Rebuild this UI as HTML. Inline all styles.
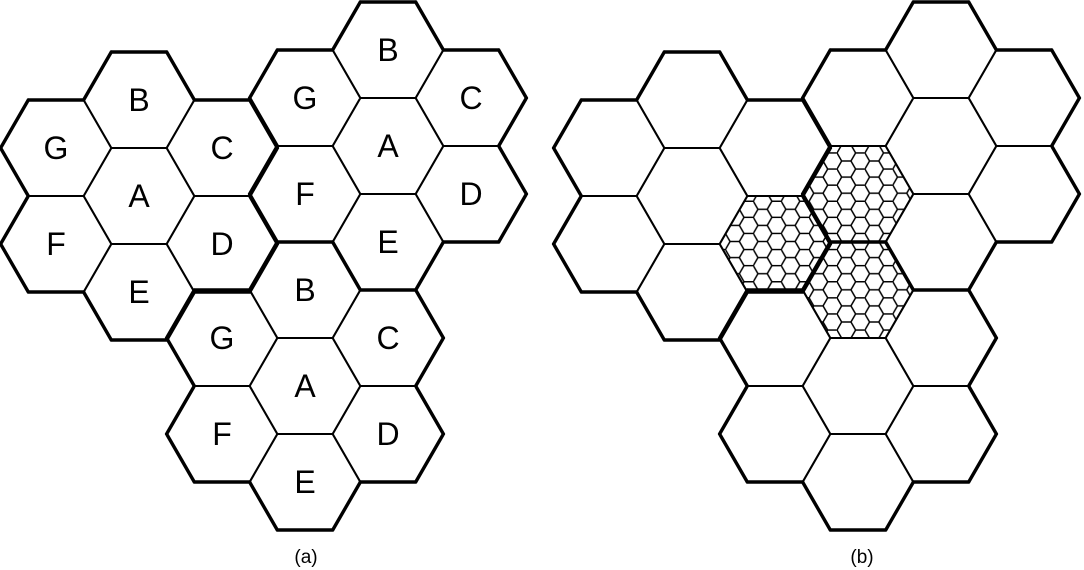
<!DOCTYPE html>
<html><head><meta charset="utf-8"><style>
html,body{margin:0;padding:0;background:#fff;}
svg{display:block;}
text{font-family:"Liberation Sans",Arial,sans-serif;fill:#000;}
</style></head><body>
<svg id="s" width="1084" height="570" viewBox="0 0 1084 570">
<defs>
<pattern id="mini" patternUnits="userSpaceOnUse" width="27.9" height="16.1" x="0" y="0">
<path d="M0,8.05 L4.65,0 L13.95,0 L18.6,8.05 L13.95,16.1 L4.65,16.1 Z M18.6,8.05 L27.9,8.05" fill="none" stroke="#000" stroke-width="1.5"/>
</pattern>
</defs>
<g id="g"></g>
<text x="306" y="563" font-size="19" text-anchor="middle">(a)</text>
<text x="862" y="563" font-size="19" text-anchor="middle">(b)</text>
</svg>
<script>
const R=55.4, AP=48, DX=83, DY=96;
const labels=['A','B','C','D','E','F','G'];
const offs=[[0,0],[0,-1],[1,-0.5],[1,0.5],[0,1],[-1,0.5],[-1,-0.5]];
const clusterCenters=[[139,196],[388,146],[305,386]];
const panelShift=[0,553];
const hatched=[[0,3],[1,5],[2,1]];
const g=document.getElementById('g');
const NS='http://www.w3.org/2000/svg';
function verts(cx,cy){const v=[];for(let k=0;k<6;k++){const a=k*Math.PI/3;v.push([cx+R*Math.cos(a),cy+R*Math.sin(a)]);}return v;}
panelShift.forEach((sx,p)=>{
  const cells=[];
  clusterCenters.forEach((c,ci)=>{offs.forEach((o,li)=>{cells.push({ci,li,x:c[0]+o[0]*DX+sx,y:c[1]+o[1]*DY});});});
  if(p===1){hatched.forEach(h=>{const c=cells.find(e=>e.ci===h[0]&&e.li===h[1]);
    const poly=document.createElementNS(NS,'polygon');
    poly.setAttribute('points',verts(c.x,c.y).map(v=>v.join(',')).join(' '));
    poly.setAttribute('fill','url(#mini)');
    
    
    g.appendChild(poly);});}
  const thin=[],thick=[];
  cells.forEach(c=>{
    const v=verts(c.x,c.y);
    for(let k=0;k<6;k++){
      const ang=(30+60*k)*Math.PI/180;
      const nx=c.x+2*AP*Math.cos(ang), ny=c.y+2*AP*Math.sin(ang);
      const same=cells.some(e=>e.ci===c.ci&&Math.hypot(e.x-nx,e.y-ny)<5);
      const a=v[k],b=v[(k+1)%6];
      const d=`M${a[0].toFixed(1)},${a[1].toFixed(1)}L${b[0].toFixed(1)},${b[1].toFixed(1)}`;
      (same?thin:thick).push(d);
    }
    if(p===0){const t=document.createElementNS(NS,'text');
      t.setAttribute('x',c.x);t.setAttribute('y',c.y+11);
      t.setAttribute('font-size','32');t.setAttribute('text-anchor','middle');
      t.textContent=labels[c.li];
      
      
      g.appendChild(t);}
  });
  const pt=document.createElementNS(NS,'path');
  pt.setAttribute('d',thin.join(''));pt.setAttribute('stroke','#000');pt.setAttribute('stroke-width','2');pt.setAttribute('fill','none');
  
  
  g.appendChild(pt);
  const pk=document.createElementNS(NS,'path');
  pk.setAttribute('d',thick.join(''));pk.setAttribute('stroke','#000');pk.setAttribute('stroke-width','3.4');pk.setAttribute('fill','none');pk.setAttribute('stroke-linecap','round');
  
  
  g.appendChild(pk);
});
</script>
</body></html>
